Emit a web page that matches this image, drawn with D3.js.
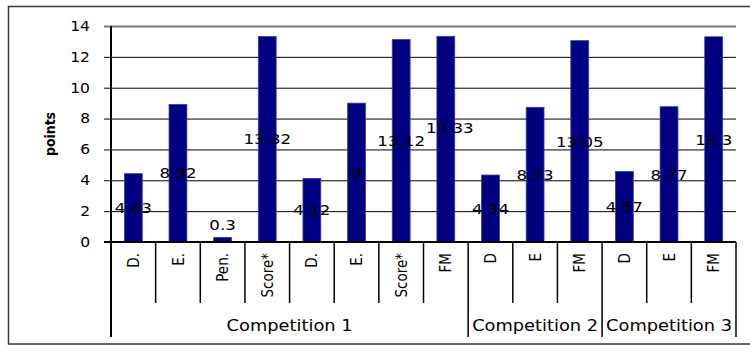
<!DOCTYPE html>
<html>
<head>
<meta charset="utf-8">
<script src="https://cdn.jsdelivr.net/npm/d3@7"></script>
<style>
  html, body { margin: 0; padding: 0; background: #fff; }
  svg { display: block; }
  text { font-family: "DejaVu Sans", Verdana, sans-serif; fill: #000; }
</style>
</head>
<body>
<svg id="chart" width="750" height="346"></svg>
<script>
// Category labels along the x axis, in drawing order
const categories = ["D.", "E.", "Pen.", "Score*", "D.", "E.", "Score*", "FM",
                    "D", "E", "FM", "D", "E", "FM"];
// Points for each category
const points = [4.43, 8.92, 0.3, 13.32, 4.12, 9, 13.12, 13.33,
                4.34, 8.73, 13.05, 4.57, 8.77, 13.3];
// Competition groups: name and how many categories each spans
const groupNames = ["Competition 1", "Competition 2", "Competition 3"];
const groupSizes = [8, 3, 3];
const yTicks = [0, 2, 4, 6, 8, 10, 12, 14];

const svg = d3.select("#chart");
const sx = 1.15; // horizontal text widening

const plotLeft = 111, plotRight = 736, plotTop = 26, zeroY = 242;
const catBottom = 303, groupBottom = 337;

// outer frame
svg.append("rect")
  .attr("x", 8.5).attr("y", 6.5)
  .attr("width", 760).attr("height", 337.5)
  .attr("fill", "none").attr("stroke", "#3a3a3a").attr("stroke-width", 1.5);

const x = d3.scaleBand()
  .domain(d3.range(categories.length))
  .range([plotLeft, plotRight])
  .paddingInner(0.6).paddingOuter(0.3);
const step = x.step();
const y = d3.scaleLinear().domain([0, 14]).range([zeroY, plotTop]);

// gridlines and ticks
const yAxis = d3.axisLeft(y).tickValues(yTicks).tickSize(-(plotRight - plotLeft)).tickFormat("");
const gy = svg.append("g").attr("transform", `translate(${plotLeft},0)`).call(yAxis);
gy.select(".domain").remove();
gy.selectAll(".tick line")
  .attr("x1", -7)
  .attr("stroke", d => d === 14 ? "#7a7a7a" : "#000")
  .attr("stroke-width", d => d === 14 ? 2 : 1);

// y tick labels
svg.append("g").selectAll("g").data(yTicks).join("g")
  .attr("transform", d => `translate(90,${y(d)}) scale(${sx},1)`)
  .append("text")
  .attr("text-anchor", "end").attr("dy", "0.36em")
  .style("font-size", "13.5px")
  .text(d => d);

// y axis title
svg.append("g")
  .attr("transform", `translate(50,134) scale(${sx},1) rotate(-90)`)
  .append("text")
  .attr("text-anchor", "middle").attr("dy", "0.36em")
  .style("font-size", "12.5px").style("font-weight", "bold")
  .text("points");

// bars
svg.append("g").selectAll("rect").data(points).join("rect")
  .attr("x", (d, i) => x(i))
  .attr("y", d => y(d))
  .attr("width", x.bandwidth())
  .attr("height", d => zeroY - y(d))
  .attr("fill", "#000080")
  .attr("stroke", "#3b3ba6").attr("stroke-width", 0.8);

// x axis line
svg.append("line")
  .attr("x1", plotLeft - 7).attr("x2", plotRight)
  .attr("y1", zeroY).attr("y2", zeroY)
  .attr("stroke", "#000").attr("stroke-width", 2);

// y axis line
svg.append("line")
  .attr("x1", plotLeft).attr("x2", plotLeft)
  .attr("y1", plotTop).attr("y2", groupBottom)
  .attr("stroke", "#000").attr("stroke-width", 2);

// category separators and group separators
const groupEnds = d3.cumsum(groupSizes);
const boundaries = d3.range(1, categories.length + 1);
svg.append("g").selectAll("line").data(boundaries).join("line")
  .attr("x1", i => plotLeft + i * step).attr("x2", i => plotLeft + i * step)
  .attr("y1", zeroY)
  .attr("y2", i => groupEnds.includes(i) ? groupBottom : catBottom)
  .attr("stroke", "#000").attr("stroke-width", 1.5);

// category labels (rotated)
svg.append("g").selectAll("g").data(categories).join("g")
  .attr("transform", (d, i) => `translate(${x(i) + x.bandwidth() / 2},253) scale(${sx},1) rotate(-90)`)
  .append("text")
  .attr("text-anchor", "end").attr("dy", "0.36em")
  .style("font-size", "13.5px")
  .text(d => d);

// group labels
const groupStart = [0, ...groupEnds.slice(0, -1)];
svg.append("g").selectAll("g").data(groupNames).join("g")
  .attr("transform", (d, i) => {
    const cx = plotLeft + (groupStart[i] + groupSizes[i] / 2) * step;
    return `translate(${cx},325) scale(${sx},1)`;
  })
  .append("text")
  .attr("text-anchor", "middle").attr("dy", "0.36em")
  .style("font-size", "15.5px")
  .text(d => d);

// value labels, centred in each bar; short bars push the label up,
// and the crowded FM label is lifted clear of its neighbour
const labelShift = {7: [4, -11]};
svg.append("g").selectAll("g").data(points).join("g")
  .attr("transform", (d, i) => {
    const s = labelShift[i] || [0, 0];
    const cx = x(i) + x.bandwidth() / 2 + s[0];
    const cy = Math.min((y(d) + zeroY) / 2, zeroY - 17) + s[1];
    return `translate(${cx},${cy}) scale(${sx},1)`;
  })
  .append("text")
  .attr("text-anchor", "middle").attr("dy", "0.36em")
  .style("font-size", "14.5px")
  .text(d => d);
</script>
</body>
</html>
